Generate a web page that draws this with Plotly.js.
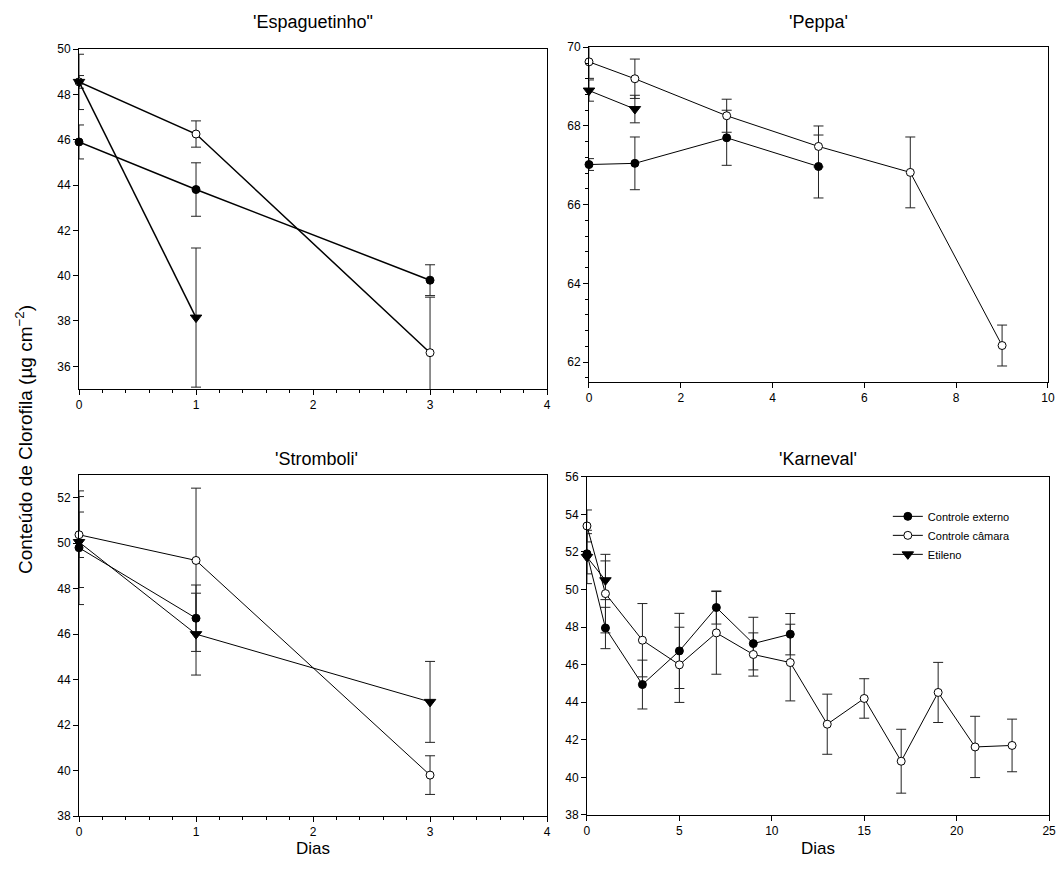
<!DOCTYPE html>
<html>
<head>
<meta charset="utf-8">
<script src="https://cdn.plot.ly/plotly-3.0.1.min.js"></script>
<style>html,body{margin:0;padding:0;background:#fff;}#chart{width:1062px;height:882px;}</style>
</head>
<body>
<div id="chart"></div>
<script>
// ---------- DATA ----------
const seriesNames = ['Controle externo', 'Controle câmara', 'Etileno'];
const panelTitles = ["'Espaguetinho\"", "'Peppa'", "'Stromboli'", "'Karneval'"];

// 'Espaguetinho"
const espDaysExt = [0, 1, 3];
const espExt = [45.9, 43.8, 39.8];
const espExtErr = [0.75, 1.18, 0.68];
const espDaysCam = [0, 1, 3];
const espCam = [48.55, 46.25, 36.6];
const espCamErr = [0.28, 0.58, 2.45];
const espDaysEti = [0, 1];
const espEti = [48.55, 38.15];
const espEtiErr = [1.22, 3.07];

// 'Peppa'
const pepDaysExt = [0, 1, 3, 5];
const pepExt = [67.02, 67.05, 67.7, 66.97];
const pepExtErr = [0.15, 0.67, 0.7, 0.8];
const pepDaysCam = [0, 1, 3, 5, 7, 9];
const pepCam = [69.63, 69.2, 68.26, 67.48, 66.82, 62.42];
const pepCamErr = [0.42, 0.5, 0.42, 0.52, 0.9, 0.52];
const pepDaysEti = [0, 1];
const pepEti = [68.9, 68.43];
const pepEtiErr = [0.27, 0.35];

// 'Stromboli'
const strDaysExt = [0, 1];
const strExt = [49.8, 46.7];
const strExtErr = [2.5, 1.46];
const strDaysCam = [0, 1, 3];
const strCam = [50.37, 49.24, 39.8];
const strCamErr = [1.0, 3.18, 0.85];
const strDaysEti = [0, 1, 3];
const strEti = [50.05, 46.0, 43.02];
const strEtiErr = [2.0, 1.8, 1.78];

// 'Karneval'
const karDaysExt = [0, 1, 3, 5, 7, 9, 11];
const karExt = [51.9, 47.95, 44.94, 46.73, 49.04, 47.12, 47.62];
const karExtErr = [1.07, 1.1, 1.3, 2.0, 0.88, 1.4, 1.1];
const karDaysCam = [0, 1, 3, 5, 7, 9, 11, 13, 15, 17, 19, 21, 23];
const karCam = [53.38, 49.78, 47.3, 45.99, 47.69, 46.54, 46.11, 42.83, 44.2, 40.86, 44.52, 41.62, 41.7];
const karCamErr = [0.85, 2.09, 1.95, 2.0, 2.2, 1.15, 2.04, 1.6, 1.05, 1.7, 1.6, 1.63, 1.4];
const karDaysEti = [0, 1];
const karEti = [51.73, 50.49];
const karEtiErr = [1.42, 1.03];

// ---------- STYLE ----------
const FONT = 'Liberation Sans, Arial, sans-serif';
const markerStyles = [
  {symbol: 'circle', size: 8, color: '#000', line: {color: '#000', width: 1}},
  {symbol: 'circle', size: 8, color: '#fff', line: {color: '#000', width: 1}},
  {symbol: 'triangle-down', size: 10, color: '#000', line: {color: '#000', width: 1}}
];

const panels = [
  {xa: 'x', ya: 'y', lw: 1.5, sets: [[espDaysExt, espExt, espExtErr], [espDaysCam, espCam, espCamErr], [espDaysEti, espEti, espEtiErr]]},
  {xa: 'x2', ya: 'y2', lw: 1, sets: [[pepDaysExt, pepExt, pepExtErr], [pepDaysCam, pepCam, pepCamErr], [pepDaysEti, pepEti, pepEtiErr]]},
  {xa: 'x3', ya: 'y3', lw: 1, sets: [[strDaysExt, strExt, strExtErr], [strDaysCam, strCam, strCamErr], [strDaysEti, strEti, strEtiErr]]},
  {xa: 'x4', ya: 'y4', lw: 1, sets: [[karDaysExt, karExt, karExtErr], [karDaysCam, karCam, karCamErr], [karDaysEti, karEti, karEtiErr]]}
];

const traces = [];
// error bar traces (clipped to axes)
panels.forEach((p) => {
  p.sets.forEach((s) => {
    traces.push({
      x: s[0], y: s[1], xaxis: p.xa, yaxis: p.ya, type: 'scatter', mode: 'markers',
      marker: {size: 1, opacity: 0}, showlegend: false, hoverinfo: 'skip',
      error_y: {type: 'data', array: s[2], visible: true, color: '#222', thickness: 1, width: 5}
    });
  });
});
// lines + markers
panels.forEach((p, pi) => {
  p.sets.forEach((s, si) => {
    traces.push({
      x: s[0], y: s[1], xaxis: p.xa, yaxis: p.ya, type: 'scatter', mode: 'lines+markers',
      name: seriesNames[si], showlegend: pi === 3, cliponaxis: false,
      line: {color: '#000', width: p.lw},
      marker: markerStyles[si]
    });
  });
});

function ax(domain, range, dtick, anchor, minorDtick) {
  const a = {domain: domain, range: range, dtick: dtick, tick0: 0, anchor: anchor,
    ticks: 'outside', ticklen: 5, tickwidth: 1, tickcolor: '#000',
    showline: true, mirror: true, linecolor: '#000', linewidth: 1,
    showgrid: false, zeroline: false, fixedrange: true,
    tickfont: {family: FONT, size: 12, color: '#000'}};
  if (minorDtick) a.minor = {dtick: minorDtick, tick0: 0, ticks: 'outside', ticklen: 3, tickcolor: '#000', showgrid: false};
  return a;
}

function note(text, px, py, size, extra) {
  return Object.assign({text: text, x: px / 1062, y: 1 - py / 882, xref: 'paper', yref: 'paper',
    xanchor: 'center', yanchor: 'middle', showarrow: false, font: {family: FONT, size: size, color: '#000'}}, extra || {});
}

const layout = {
  width: 1062, height: 882,
  margin: {l: 0, r: 0, t: 0, b: 0},
  paper_bgcolor: '#fff', plot_bgcolor: '#fff',
  font: {family: FONT, color: '#000'},
  showlegend: true,
  legend: {x: 0.836, y: 0.431, xanchor: 'left', yanchor: 'top',
    font: {family: FONT, size: 11, color: '#000'}, bgcolor: 'rgba(0,0,0,0)',
    tracegroupgap: 0, itemwidth: 30},
  xaxis: ax([0.0744, 0.5151], [0, 4], 1, 'y', 0.2),
  yaxis: ax([0.559, 0.9444], [35, 50], 2, 'x', null),
  xaxis2: ax([0.5546, 0.9868], [0, 10], 2, 'y2', null),
  yaxis2: ax([0.5672, 0.9464], [61.5, 70], 2, 'x2', 0.4),
  xaxis3: ax([0.0744, 0.5151], [0, 4], 1, 'y3', 0.2),
  yaxis3: ax([0.0748, 0.4615], [38, 53], 2, 'x3', null),
  xaxis4: ax([0.5527, 0.9878], [0, 25], 5, 'y4', null),
  yaxis4: ax([0.076, 0.4595], [38, 56], 2, 'x4', null),
  annotations: [
    note(panelTitles[0], 313, 22, 18),
    note(panelTitles[1], 818, 22, 18),
    note(panelTitles[2], 316, 459, 18),
    note(panelTitles[3], 818, 459, 18),
    note('Dias', 313, 848, 17),
    note('Dias', 818, 848, 17),
    note('Conteúdo de Clorofila (µg cm<sup>−2</sup>)', 24, 440, 19, {textangle: -90})
  ]
};

Plotly.newPlot('chart', traces, layout, {displayModeBar: false, staticPlot: true});
</script>
</body>
</html>
